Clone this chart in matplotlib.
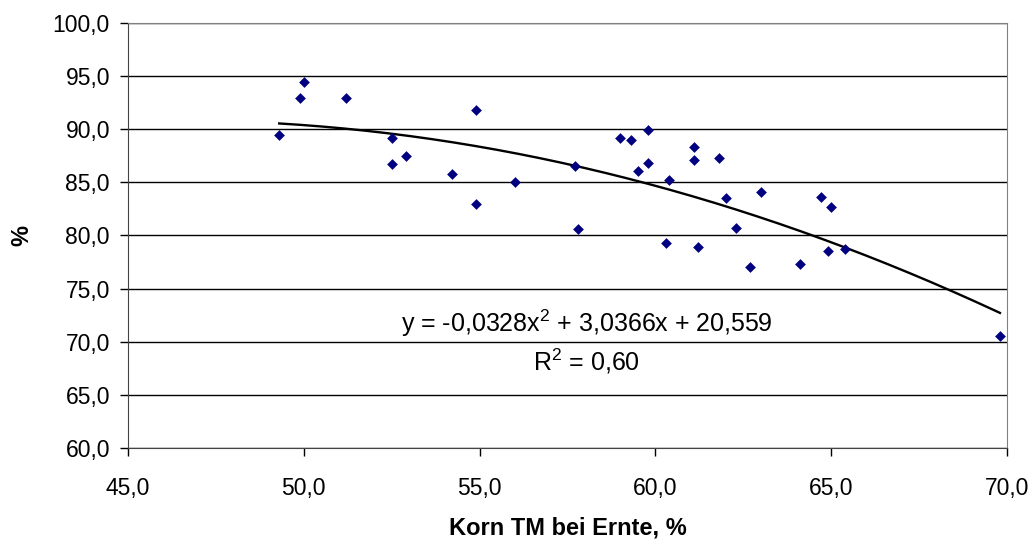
import numpy as np
import matplotlib.pyplot as plt
from matplotlib.ticker import FuncFormatter

# Korn TM bei Ernte (%) vs. y (%)
korn_tm = [49.3, 49.9, 50.0, 51.2, 52.5, 52.5, 52.9, 54.2, 54.9, 54.9,
           56.0, 57.7, 57.8, 59.0, 59.3, 59.5, 59.8, 59.8, 60.3, 60.4,
           61.1, 61.1, 61.2, 61.8, 62.0, 62.3, 62.7, 63.0, 64.1, 64.7,
           64.9, 65.0, 65.4, 69.8]
werte = [89.5, 92.9, 94.4, 92.9, 89.2, 86.7, 87.5, 85.8, 91.8, 83.0,
         85.0, 86.5, 80.6, 89.2, 89.0, 86.1, 89.9, 86.8, 79.3, 85.2,
         88.3, 87.1, 78.9, 87.3, 83.5, 80.7, 77.0, 84.1, 77.3, 83.6,
         78.5, 82.7, 78.7, 70.5]

# Trendline coefficients (as printed on chart)
coef = [-0.0328, 3.0366, 20.559]
eq_text = "y = -0,0328x$^2$ + 3,0366x + 20,559"
r2_text = "R$^2$ = 0,60"

plt.rcParams['font.family'] = ['Liberation Sans', 'DejaVu Sans']
plt.rcParams['mathtext.fontset'] = 'custom'
plt.rcParams['mathtext.rm'] = 'Liberation Sans'

fig = plt.figure(figsize=(10.36, 5.41), dpi=100)
ax = fig.add_axes([0.1236, 0.172, 0.8484, 0.7855])

ax.scatter(korn_tm, werte, marker='D', s=30, color='#000080', zorder=3,
           linewidths=0)

xs = np.linspace(min(korn_tm), max(korn_tm), 200)
ax.plot(xs, np.polyval(coef, xs), color='black', lw=1.7, zorder=2)

ax.set_xlim(45, 70)
ax.set_ylim(60, 100)
ax.set_xticks(np.arange(45, 70.1, 5))
ax.set_yticks(np.arange(60, 100.1, 5))
fmt = FuncFormatter(lambda v, p: f"{v:.1f}".replace('.', ','))
ax.xaxis.set_major_formatter(fmt)
ax.yaxis.set_major_formatter(fmt)
ax.tick_params(direction='out', length=6, width=1, labelsize=16.5,
               color='black')
ax.tick_params(axis='x', pad=15)
ax.tick_params(axis='y', pad=7)
ax.yaxis.grid(True, color='black', lw=1)
ax.set_axisbelow(True)

for s in ['top', 'right']:
    ax.spines[s].set_color('#808080')
ax.spines['left'].set_color('#444444')
ax.spines['bottom'].set_color('#444444')

ax.set_xlabel("Korn TM bei Ernte, %", fontsize=17, fontweight='bold',
              va='center')
ax.xaxis.set_label_coords(0.5, -0.188)
ax.set_ylabel("%", fontsize=17, fontweight='bold', va='center')
ax.yaxis.set_label_coords(-0.1206, 0.5)

ax.text(58.05, 71.7, eq_text, ha='center', va='center', fontsize=18)
ax.text(58.05, 68.2, r2_text, ha='center', va='center', fontsize=18)

fig.savefig("out.png", dpi=100)
